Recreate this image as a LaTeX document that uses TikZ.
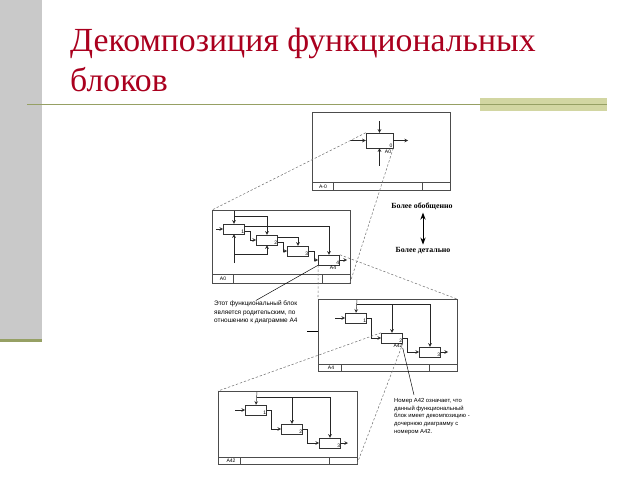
\documentclass[tikz,border=0pt]{standalone}
\usepackage{fontspec}
\setmainfont{Liberation Serif}
\newfontfamily\arialfont{Liberation Sans}
\usetikzlibrary{arrows.meta}
\definecolor{zagolovok}{RGB}{170,0,30}
\definecolor{olivka}{RGB}{150,160,100}
\definecolor{olivkasvet}{RGB}{210,214,162}
\begin{document}
\begin{tikzpicture}[x=0.03cm,y=-0.03cm,>=stealth,
blok/.style={rectangle,draw=black!80,line width=.4pt,minimum width=.64cm,minimum height=.3cm,inner sep=0pt},
ramka/.style={draw=black!70,line width=.45pt},
nomer/.style={font=\arialfont\fontsize{4.3}{5}\selectfont,inner sep=.4pt},
podpis/.style={font=\arialfont\fontsize{4.3}{5}\selectfont,inner sep=0pt},
svyaz/.style={->,line width=.4pt,draw=black!85},
punktir/.style={draw=black!55,line width=.45pt,dash pattern=on 2pt off 1.6pt},
zag/.style={font=\fontsize{28.8}{34}\selectfont,text=zagolovok,anchor=base west,inner sep=0pt}]
\useasboundingbox (0,0) rectangle (640,480);
% slide background
\fill[black!21] (0,0) rectangle (42,340);
\fill[olivka] (0,339) rectangle (42,342);
\fill[olivkasvet] (480,98) rectangle (607,111);
\draw[olivka,line width=.8pt] (27,104) -- (607,104);

\node[zag](zag1) at (70,52){Декомпозиция функциональных};
\node[zag](zag2) at (70,92){блоков};

% diagram A-0
\coordinate(ra1) at (312,112);
\coordinate(ra2) at (450,190);
\draw[ramka] (ra1) rectangle (ra2);
\draw[ramka] (312,182)--(450,182) (333,182)--(333,190) (422,182)--(422,190);
\node[podpis](ra-n) at (323,186.5){A-0};
\node[blok,minimum width=.81cm,minimum height=.45cm](b0) at (379.5,140.5){};
\node[nomer,anchor=south east](b0-n) at (b0.south east){0};
\node[podpis,anchor=north](b0-a) at (388,149.5){A0};
\coordinate(b0-vh) at (350,140.5);
\coordinate(b0-up) at (379.5,121);
\coordinate(b0-mh) at (379.5,166);
\coordinate(b0-vyh) at (408,140.5);
\draw[svyaz] (b0-vh)--(b0.west);
\draw[svyaz] (b0-up)--(b0.north);
\draw[svyaz] (b0-mh)--(b0.south);
\draw[svyaz] (b0.east)--(b0-vyh);

% diagram A0
\coordinate(rb1) at (212,210);
\coordinate(rb2) at (350,283);
\draw[ramka] (rb1) rectangle (rb2);
\draw[ramka] (212,274)--(350,274) (233,274)--(233,283) (322,274)--(322,283);
\node[podpis](rb-n) at (223,279){A0};
\node[blok](c1) at (234,229){};
\node[blok](c2) at (267,240){};
\node[blok](c3) at (298,251){};
\node[blok](c4) at (329,260){};
\node[nomer,anchor=south east](c1-n) at (c1.south east){1};
\node[nomer,anchor=south east](c2-n) at (c2.south east){2};
\node[nomer,anchor=south east](c3-n) at (c3.south east){3};
\node[nomer,anchor=south east](c4-n) at (c4.south east){4};
\node[podpis,anchor=north](c4-a) at (333,266){A4};
\coordinate(c-vh) at (216,229);
\coordinate(c-up) at (234,211);
\coordinate(c-up2) at (234,216);
\coordinate(c-mh) at (234,263);
\coordinate(c-mh2) at (234,254);
\coordinate(c-vyh) at (347,260);
\draw[svyaz] (c-vh)--(c1.west);
\draw[svyaz] (c-up)--(c1.north);
\draw[svyaz] (c-up2)-|(c2.north);
\draw[svyaz] (c-mh)--(c1.south);
\draw[svyaz] (c-mh2)-|(c2.south);
\draw[svyaz] ([yshift=2pt]c1.east)-|(c4.north);
\draw[svyaz] ([yshift=-2pt]c1.east)--++(5,0)|-(c2.west);
\draw[svyaz] ([yshift=2pt]c2.east)-|(c3.north);
\draw[svyaz] ([yshift=-2pt]c2.east)--++(5,0)|-(c3.west);
\draw[svyaz] (c3.east)--++(5,0)|-(c4.west);
\draw[svyaz] (c4.east)--(c-vyh);

% diagram A4
\coordinate(rc1) at (318,299);
\coordinate(rc2) at (457,371);
\draw[ramka] (rc1) rectangle (rc2);
\draw[ramka] (318,364)--(457,364) (341,364)--(341,371) (429,364)--(429,371);
\node[podpis](rc-n) at (331,367.5){A4};
\node[blok](d1) at (356,318){};
\node[blok](d2) at (392,338){};
\node[blok](d3) at (430,352){};
\node[nomer,anchor=south east](d1-n) at (d1.south east){1};
\node[nomer,anchor=south east](d2-n) at (d2.south east){2};
\node[nomer,anchor=south east](d3-n) at (d3.south east){3};
\node[podpis,anchor=north](d2-a) at (398,344){A42};
\coordinate(d-vh) at (335,318);
\coordinate(d-up) at (357,300);
\coordinate(d-up2) at (357,304);
\coordinate(d-vyh) at (448,352);
\draw[svyaz] (d-vh)--(d1.west);
\draw[svyaz] (d-up)--(d1.north);
\draw[svyaz] (d-up2)-|(d2.north);
\draw[svyaz] (d-up2)-|(d3.north);
\draw[svyaz] (d1.east)--++(4,0)|-(d2.west);
\draw[svyaz] (d2.east)--++(4,0)|-(d3.west);
\draw[svyaz] (d3.east)--(d-vyh);

% diagram A42
\coordinate(rd1) at (218,391);
\coordinate(rd2) at (357,464);
\draw[ramka] (rd1) rectangle (rd2);
\draw[ramka] (218,457)--(357,457) (240,457)--(240,464) (329,457)--(329,464);
\node[podpis](rd-n) at (231,460.5){A42};
\node[blok](e1) at (256,410){};
\node[blok](e2) at (292,429){};
\node[blok](e3) at (330,443){};
\node[nomer,anchor=south east](e1-n) at (e1.south east){1};
\node[nomer,anchor=south east](e2-n) at (e2.south east){2};
\node[nomer,anchor=south east](e3-n) at (e3.south east){3};
\coordinate(e-vh) at (235,410);
\coordinate(e-up) at (257,392);
\coordinate(e-up2) at (257,397);
\coordinate(e-vyh) at (348,443);
\draw[svyaz] (e-vh)--(e1.west);
\draw[svyaz] (e-up)--(e1.north);
\draw[svyaz] (e-up2)-|(e2.north);
\draw[svyaz] (e-up2)-|(e3.north);
\draw[svyaz] (e1.east)--++(4,0)|-(e2.west);
\draw[svyaz] (e2.east)--++(4,0)|-(e3.west);
\draw[svyaz] (e3.east)--(e-vyh);

% decomposition lines
\draw[punktir] (b0.north west)--(rb1);
\draw[punktir] (b0.south east)--(rb2);
\draw[punktir] (c4.north east)--(rc2|-rc1);
\draw[punktir] (c4.south west)--(rc1);
\draw[punktir] (d2.north west)--(rd1);
\draw[punktir] (d2.south east)--(rd2);

% notes
\node[font=\fontsize{6.7}{7}\selectfont\bfseries,inner sep=0pt](obob) at (422,206){Более обобщенно};
\node[font=\fontsize{6.7}{7}\selectfont\bfseries,inner sep=0pt](detal) at (423,251){Более детально};
\draw[{Stealth[length=6pt,width=4.5pt]}-{Stealth[length=6pt,width=4.5pt]},line width=.75pt,shorten <=2.5pt,shorten >=2.5pt] (obob.south-|detal)--(detal.north);
\node[font=\arialfont\fontsize{5.5}{7.4}\selectfont,align=left,anchor=north west,inner sep=0pt](tekst1) at (214,300.5){Этот функциональный блок\\является родительским, по\\отношению к диаграмме А4};
\coordinate(t1-hv) at (307,331.5);
\draw[line width=.4pt] (tekst1.north)--(c4.south west);
\draw[line width=.4pt] (t1-hv)--(rc1|-t1-hv);
\node[font=\arialfont\fontsize{5}{6.6}\selectfont,align=left,anchor=north west,inner sep=0pt](tekst2) at (394,398){Номер А42 означает, что\\данный функциональный\\блок имеет декомпозицию -\\дочернюю диаграмму с\\номером А42.};
\coordinate(t2-v) at (414,395);
\draw[line width=.4pt] (d2-a.south east)--(t2-v);
\end{tikzpicture}
\end{document}
